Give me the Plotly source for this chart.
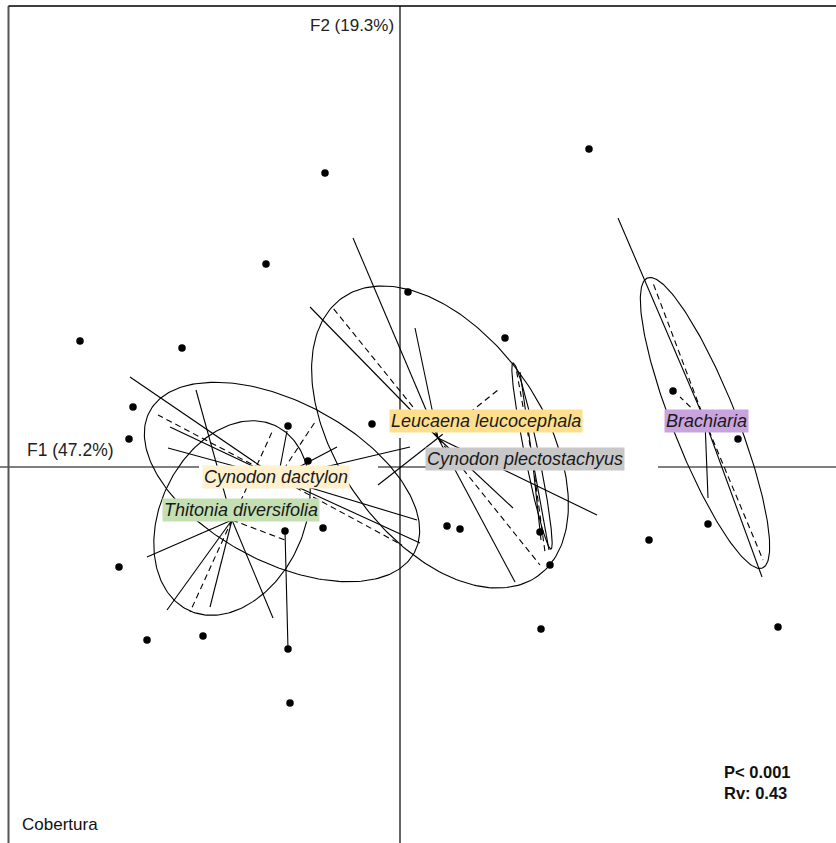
import numpy as np
import plotly.graph_objects as go

# ---- site scores on the first two axes (F1, F2) ----
site_f1 = [1.89, -0.75, -1.34, 0.08, -3.20, -2.18, 1.05, -2.67, -2.71, -1.12, -0.92, -0.28,
           2.73, 3.38, 3.08, 2.49, 3.78, 0.47, 0.60, 1.40, 1.50, 1.41, -0.77, -1.15,
           -2.81, -2.53, -1.97, -1.12, -1.10]
site_f2 = [3.18, 2.94, 2.03, 1.75, 1.26, 1.19, 1.29, 0.60, 0.28, 0.41, 0.06, 0.43,
           0.76, 0.28, -0.57, -0.73, -1.60, -0.59, -0.62, -0.65, -0.98, -1.62, -0.61, -0.64,
           -1.00, -1.73, -1.69, -1.82, -2.36]
# pairs of sites joined by a segment
site_links = [(23, 27)]

# ---- groups (cover species) ----
groups = ["Leucaena leucocephala", "Cynodon plectostachyus", "Brachiaria",
          "Cynodon dactylon", "Thitonia diversifolia"]
group_fill = ["#FFDF8C", "#C8C8C8", "#C9A3DD", "#FFF0CE", "#C4DFB2"]

# inertia ellipses: centre, semi-axes, rotation (degrees)
ell_cx = [0.40, 1.32, 3.05, -1.18, -1.68]
ell_cy = [0.30, 0.11, 0.44, -0.15, -0.51]
ell_a = [1.70, 0.95, 1.56, 1.50, 1.02]
ell_b = [1.02, 0.07, 0.32, 0.80, 0.72]
ell_angle = [-55, -78.5, -68.4, -28, 65]

# star centres and branch ends (solid and dashed)
star_cx = [0.38, 1.32, 3.05, -1.22, -1.68]
star_cy = [0.29, 0.11, 0.46, -0.11, -0.53]
star_solid_f1 = [[-0.47, -0.90, 0.15, 1.15, 1.13, 1.97, -0.22],
                 [1.20, 1.49, 1.41],
                 [2.18, 3.62, 3.08],
                 [-2.70, -2.30, -2.32, -0.63, 0.10, 0.17, 0.20, -1.13],
                 [-2.04, -2.53, -2.33, -1.90, -1.27]]
star_solid_f2 = [[2.29, 1.60, 1.39, -1.15, -0.41, -0.48, -0.18],
                 [0.95, -0.83, -0.73],
                 [2.49, -1.10, -0.31],
                 [0.90, 0.40, 0.19, 0.20, 0.20, -0.53, -0.76, 0.36],
                 [0.77, -0.90, -1.43, -1.40, -1.51]]
star_dash_f1 = [[-0.67, 0.98, 1.40],
                [1.16, 1.45],
                [2.53, 3.63, 2.80],
                [-2.42, -0.85, 0.02],
                [-1.28, -2.10, -1.15]]
star_dash_f2 = [[1.59, 0.77, -0.98],
                [0.99, -0.85],
                [1.84, -0.93, 0.70],
                [0.52, 0.45, -0.78],
                [0.35, -1.45, -0.73]]

# label positions (box centres)
label_f1 = [0.86, 1.25, 3.065, -1.24, -1.59]
label_f2 = [0.46, 0.08, 0.46, -0.10, -0.43]

axis_titles = ["F1 (47.2%)", "F2 (19.3%)"]
stats_text = ["P< 0.001", "Rv: 0.43"]
panel_title = "Cobertura"

X_RANGE = [-4.00, 4.36]
Y_RANGE = [-3.76, 4.67]
FONT = "Arial, Liberation Sans, sans-serif"

fig = go.Figure()

# ellipses
t = np.linspace(0, 2 * np.pi, 240)
for cx, cy, a, b, ang in zip(ell_cx, ell_cy, ell_a, ell_b, ell_angle):
    th = np.radians(ang)
    ex = cx + a * np.cos(t) * np.cos(th) - b * np.sin(t) * np.sin(th)
    ey = cy + a * np.cos(t) * np.sin(th) + b * np.sin(t) * np.cos(th)
    fig.add_trace(go.Scatter(x=ex, y=ey, mode="lines",
                             line=dict(color="black", width=1.1),
                             hoverinfo="skip"))


def star_xy(cx, cy, ends_x, ends_y):
    xs, ys = [], []
    for ex, ey in zip(ends_x, ends_y):
        xs += [cx, ex, None]
        ys += [cy, ey, None]
    return xs, ys


for i in range(len(groups)):
    sx, sy = star_xy(star_cx[i], star_cy[i], star_solid_f1[i], star_solid_f2[i])
    fig.add_trace(go.Scatter(x=sx, y=sy, mode="lines",
                             line=dict(color="black", width=1.1),
                             hoverinfo="skip"))
    dx, dy = star_xy(star_cx[i], star_cy[i], star_dash_f1[i], star_dash_f2[i])
    fig.add_trace(go.Scatter(x=dx, y=dy, mode="lines",
                             line=dict(color="black", width=1.1, dash="6px,4px"),
                             hoverinfo="skip"))

# links between sites
lx, ly = [], []
for i, j in site_links:
    lx += [site_f1[i], site_f1[j], None]
    ly += [site_f2[i], site_f2[j], None]
fig.add_trace(go.Scatter(x=lx, y=ly, mode="lines",
                         line=dict(color="black", width=1.1), hoverinfo="skip"))

# sites
fig.add_trace(go.Scatter(x=site_f1, y=site_f2, mode="markers",
                         marker=dict(color="black", size=7.5), hoverinfo="skip"))

# frame and axes through the origin
shapes = [
    dict(type="line", x0=X_RANGE[0], x1=X_RANGE[1], y0=0, y1=0,
         line=dict(color="black", width=1.2), layer="below"),
    dict(type="line", x0=0, x1=0, y0=Y_RANGE[0], y1=4.61,
         line=dict(color="black", width=1.2), layer="below"),
    dict(type="line", x0=-3.915, x1=-3.915, y0=Y_RANGE[0], y1=4.61,
         line=dict(color="#555555", width=2), layer="below"),
    dict(type="line", x0=-3.915, x1=X_RANGE[1], y0=4.61, y1=4.61,
         line=dict(color="black", width=1.5), layer="below"),
    # white margins left around the labels
    dict(type="rect", x0=-2.01, x1=-0.22, y0=-0.05, y1=0.04,
         fillcolor="white", line=dict(width=0), layer="below"),
    dict(type="rect", x0=2.20, x1=2.58, y0=-0.05, y1=0.04,
         fillcolor="white", line=dict(width=0), layer="below"),
    dict(type="rect", x0=-0.05, x1=0.05, y0=0.29, y1=0.36,
         fillcolor="white", line=dict(width=0), layer="below"),
]

annotations = []
for name, fx, fy, col in zip(groups, label_f1, label_f2, group_fill):
    annotations.append(dict(
        x=fx, y=fy, text=name, showarrow=False, xanchor="center", yanchor="middle",
        bgcolor=col, borderpad=1,
        font=dict(family=FONT, size=18, color="#1a1a1a", style="italic")))

annotations += [
    dict(x=-3.75, y=0.17, text=axis_titles[0], showarrow=False,
         xanchor="left", yanchor="middle",
         font=dict(family=FONT, size=17.5, color="#222222")),
    dict(x=-0.04, y=4.42, text=axis_titles[1], showarrow=False,
         xanchor="right", yanchor="middle",
         font=dict(family="Liberation Sans Narrow, Arial Narrow, sans-serif",
                   size=17, color="#222222")),
    dict(x=-3.80, y=-3.57, text=panel_title, showarrow=False,
         xanchor="left", yanchor="middle",
         font=dict(family=FONT, size=17, color="#111111")),
    dict(x=3.22, y=-3.05, text="<b>" + stats_text[0] + "</b>", showarrow=False,
         xanchor="left", yanchor="middle",
         font=dict(family=FONT, size=16.5, color="#111111")),
    dict(x=3.22, y=-3.26, text="<b>" + stats_text[1] + "</b>", showarrow=False,
         xanchor="left", yanchor="middle",
         font=dict(family=FONT, size=16.5, color="#111111")),
]

fig.update_layout(
    width=836, height=843,
    margin=dict(l=0, r=0, t=0, b=0),
    paper_bgcolor="white", plot_bgcolor="white",
    showlegend=False,
    xaxis=dict(range=X_RANGE, visible=False, fixedrange=True),
    yaxis=dict(range=Y_RANGE, visible=False, fixedrange=True),
    shapes=shapes,
    annotations=annotations,
)

fig.write_html("out.html")
